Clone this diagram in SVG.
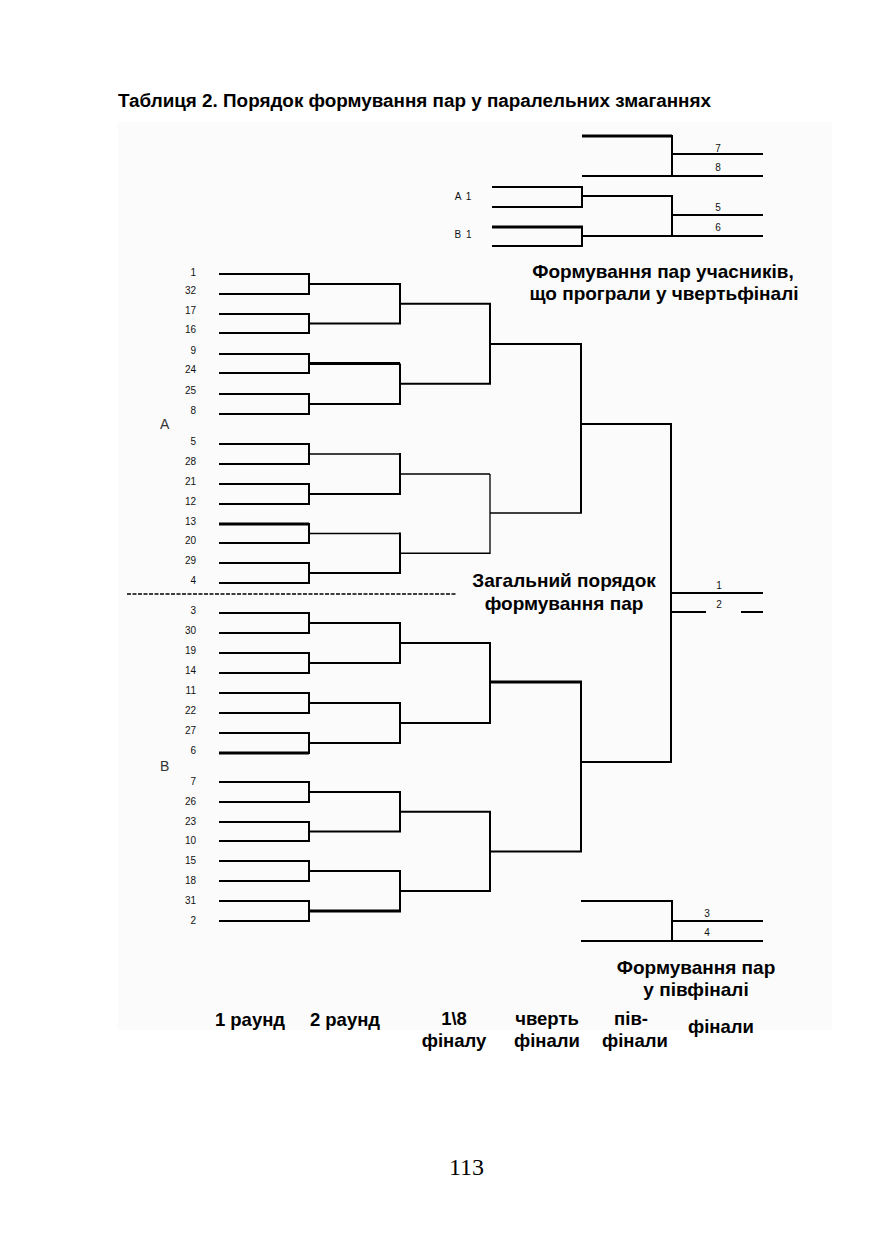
<svg xmlns="http://www.w3.org/2000/svg" width="875" height="1240" viewBox="0 0 875 1240">
<style>
.ln{fill:none;stroke:#000;stroke-width:2;stroke-linejoin:miter}
.tk{stroke-width:3}
.tn{stroke-width:1.3}
.num{font-family:"Liberation Sans",Arial,sans-serif;font-size:10px;fill:#111;text-anchor:end}
.sm{font-family:"Liberation Sans",Arial,sans-serif;font-size:10px;fill:#111;text-anchor:middle}
.b{font-family:"Liberation Sans",Arial,sans-serif;font-weight:bold;font-size:19px;fill:#000;text-anchor:middle}
.r{font-size:18.5px}
.grp{font-family:"Liberation Sans",Arial,sans-serif;font-size:14px;fill:#333}
</style>
<rect width="875" height="1240" fill="#fff"/>
<rect x="118" y="122" width="714" height="908" fill="#fbfbfb"/>
<text x="118" y="107" font-family="Liberation Sans, Arial, sans-serif" font-weight="bold" font-size="18px" fill="#000" textLength="593" lengthAdjust="spacingAndGlyphs">Таблиця 2. Порядок формування пар у паралельних змаганнях</text>

<g id="connectors">
<!-- upper half round 1 -->
<path class="ln" d="M219 274H309V294H219"/>
<path class="ln" d="M219 314H309V333H219"/>
<path class="ln" d="M219 354H309V373H219"/>
<path class="ln" d="M219 394H309V414H219"/>
<path class="ln" d="M219 444H309V464H219"/>
<path class="ln" d="M219 484H309V504H219"/>
<path class="ln" d="M219 524H309V543H219"/>
<path class="ln" d="M219 563H309V583H219"/>
<path class="ln tk" d="M219 524H309"/>
<!-- upper round 2 -->
<path class="ln" d="M309 284H400V323.5H309"/>
<path class="ln" d="M400 363.5V404H309"/>
<path class="ln tk" d="M309 363.5H400"/>
<path class="ln tn" d="M309 454H400"/>
<path class="ln" d="M400 453V494H309"/>
<path class="ln tn" d="M309 533.5H400"/>
<path class="ln" d="M400 532.5V573H309"/>
<!-- upper 1/8 -->
<path class="ln" d="M400 303.75H490V383.75H400"/>
<path class="ln tn" d="M400 474H490"/>
<path class="ln tn" d="M490 474V553.25H400"/>
<!-- upper quarter -->
<path class="ln" d="M490 344H581V513"/>
<path class="ln tn" d="M490 513H582"/>
<!-- lower half round 1 -->
<path class="ln" d="M219 613H309V633H219"/>
<path class="ln" d="M219 653H309V673H219"/>
<path class="ln" d="M219 693H309V713H219"/>
<path class="ln" d="M219 733H309V753H219"/>
<path class="ln tk" d="M219 753H309"/>
<path class="ln" d="M219 782H309V802H219"/>
<path class="ln" d="M219 822H309V841H219"/>
<path class="ln" d="M219 861H309V881H219"/>
<path class="ln" d="M219 901H309V921H219"/>
<!-- lower round 2 -->
<path class="ln" d="M309 623H400V663H309"/>
<path class="ln" d="M309 703H400V743H309"/>
<path class="ln" d="M309 792H400V831.5H309"/>
<path class="ln" d="M309 871H400V911"/>
<path class="ln tk" d="M309 911H401"/>
<!-- lower 1/8 -->
<path class="ln" d="M400 643H490V723H400"/>
<path class="ln" d="M400 811.75H490V891H400"/>
<!-- lower quarter -->
<path class="ln" d="M490 682H581V851.4H490"/>
<path class="ln tk" d="M490 682H582"/>
<!-- semi / final -->
<path class="ln" d="M581 424H671V762H581"/>
<path class="ln" d="M671 593H763"/>
<path class="ln" d="M671 612H706M741 612H763"/>
<!-- quarterfinal losers -->
<path class="ln tk" d="M582 136H672"/>
<path class="ln" d="M672 135V176H582M672 176H763M672 154H763"/>
<path class="ln" d="M492 187H582V207H492"/>
<path class="ln" d="M492 227H582V246H492"/>
<path class="ln tk" d="M492 227H583"/>
<path class="ln" d="M582 196H672V236H582M672 236H763M672 215H763"/>
<!-- semifinal losers -->
<path class="ln" d="M581 901H672V941H581M672 941H763M672 921H763"/>
<!-- divider -->
<path d="M127 594H457" fill="none" stroke="#000" stroke-width="1.6" stroke-dasharray="4,1.5"/>
</g>

<g id="seeds-A">
<text class="num" x="196" y="276">1</text>
<text class="num" x="196" y="294">32</text>
<text class="num" x="196" y="314">17</text>
<text class="num" x="196" y="333">16</text>
<text class="num" x="196" y="354">9</text>
<text class="num" x="196" y="373">24</text>
<text class="num" x="196" y="394">25</text>
<text class="num" x="196" y="414">8</text>
<text class="num" x="196" y="445">5</text>
<text class="num" x="196" y="465">28</text>
<text class="num" x="196" y="485">21</text>
<text class="num" x="196" y="505">12</text>
<text class="num" x="196" y="525">13</text>
<text class="num" x="196" y="544">20</text>
<text class="num" x="196" y="564">29</text>
<text class="num" x="196" y="584">4</text>
<text class="grp" x="160" y="429">A</text>
</g>
<g id="seeds-B">
<text class="num" x="196" y="614">3</text>
<text class="num" x="196" y="634">30</text>
<text class="num" x="196" y="654">19</text>
<text class="num" x="196" y="674">14</text>
<text class="num" x="196" y="694">11</text>
<text class="num" x="196" y="714">22</text>
<text class="num" x="196" y="734">27</text>
<text class="num" x="196" y="754">6</text>
<text class="num" x="196" y="785">7</text>
<text class="num" x="196" y="805">26</text>
<text class="num" x="196" y="825">23</text>
<text class="num" x="196" y="844">10</text>
<text class="num" x="196" y="864">15</text>
<text class="num" x="196" y="884">18</text>
<text class="num" x="196" y="904">31</text>
<text class="num" x="196" y="924">2</text>
<text class="grp" x="160" y="771">B</text>
</g>
<g id="places">
<text class="sm" x="718" y="152">7</text>
<text class="sm" x="718" y="171">8</text>
<text class="sm" x="718" y="211">5</text>
<text class="sm" x="718" y="231">6</text>
<text class="sm" x="463" y="200" font-size="10.5px" word-spacing="2">A 1</text>
<text class="sm" x="463" y="238" font-size="10.5px" word-spacing="2">B 1</text>
<text class="sm" x="719" y="589">1</text>
<text class="sm" x="719" y="608">2</text>
<text class="sm" x="707" y="917">3</text>
<text class="sm" x="707" y="936">4</text>
</g>
<g id="captions">
<text class="b" x="663" y="278">Формування пар учасників,</text>
<text class="b" x="664" y="300">що програли у чвертьфіналі</text>
<text class="b" x="564" y="587">Загальний порядок</text>
<text class="b" x="564" y="610">формування пар</text>
<text class="b" x="696" y="974">Формування пар</text>
<text class="b" x="696" y="996">у півфіналі</text>
</g>
<g id="round-labels">
<text class="b r" x="250" y="1026">1 раунд</text>
<text class="b r" x="345" y="1026">2 раунд</text>
<text class="b r" x="454" y="1025">1\8</text>
<text class="b r" x="454" y="1047">фіналу</text>
<text class="b r" x="547" y="1025">чверть</text>
<text class="b r" x="547" y="1047">фінали</text>
<text class="b r" x="631" y="1025">пів-</text>
<text class="b r" x="635" y="1047">фінали</text>
<text class="b r" x="721" y="1033">фінали</text>
</g>
<text x="466.5" y="1175" font-family="Liberation Serif, Times New Roman, serif" font-size="24px" text-anchor="middle" fill="#000">113</text>
</svg>
